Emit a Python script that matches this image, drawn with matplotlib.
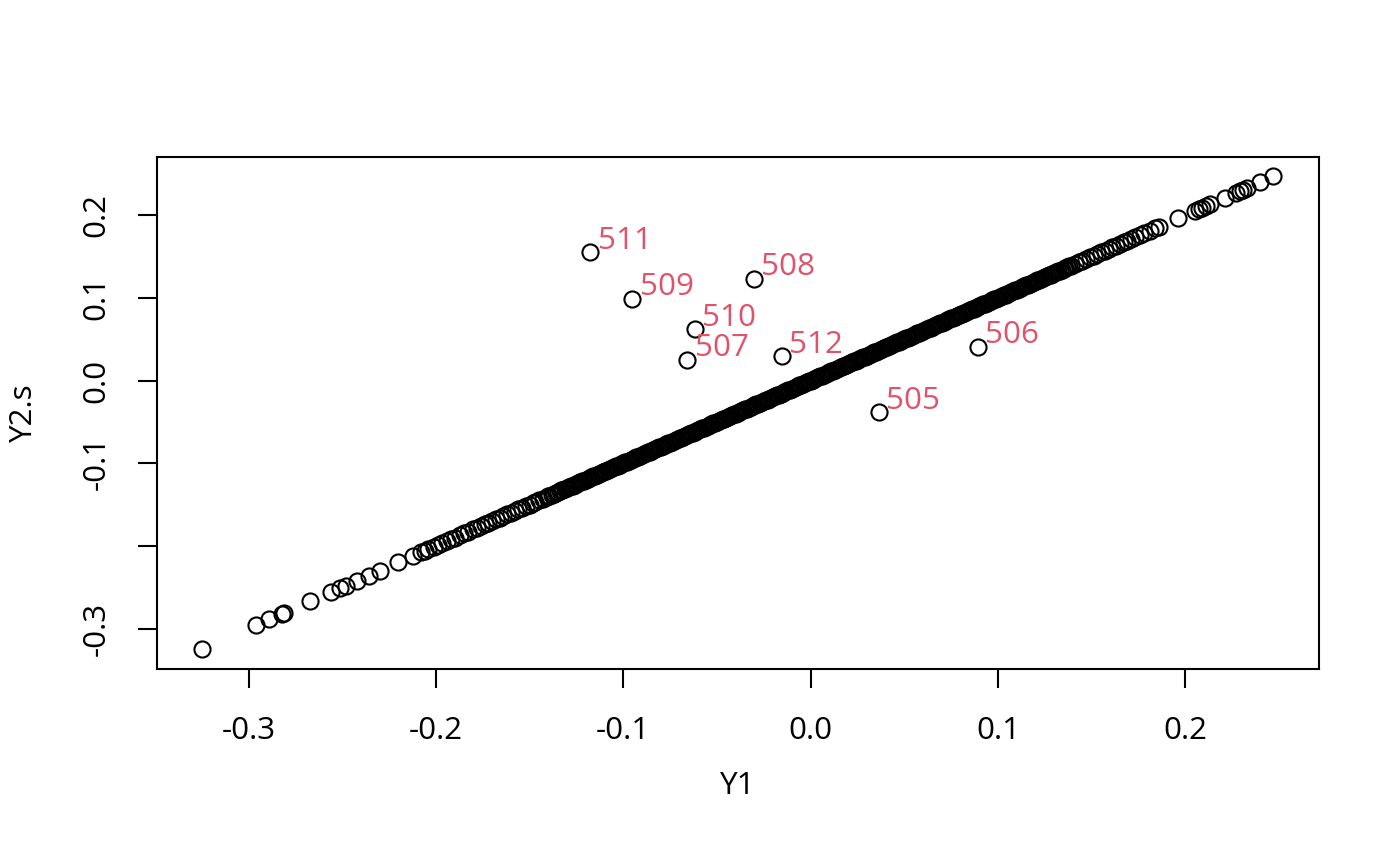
import matplotlib.pyplot as plt

plt.rcParams["font.family"] = ["Open Sans", "DejaVu Sans"]

# points lying on the diagonal band (Y2.s == Y1 there)
y1_line = [
    -0.325, -0.296, -0.289, -0.282, -0.281, -0.267, -0.256, -0.251, -0.248, -0.242,
    -0.236, -0.230, -0.220, -0.212, -0.208, -0.206, -0.204, -0.201, -0.199, -0.197,
    -0.194, -0.192, -0.190, -0.187, -0.185, -0.183, -0.180, -0.178, -0.176, -0.174,
    -0.172, -0.170, -0.168, -0.166, -0.164, -0.162, -0.160, -0.158, -0.156, -0.154,
    -0.152, -0.150, -0.148, -0.147, -0.145, -0.143, -0.141, -0.140, -0.138, -0.136,
    -0.134, -0.133, -0.131, -0.129, -0.127, -0.126, -0.124, -0.122, -0.120, -0.119,
    -0.117, -0.115, -0.113, -0.112, -0.110, -0.108, -0.106, -0.105, -0.103, -0.101,
    -0.099, -0.098, -0.096, -0.094, -0.092, -0.091, -0.089, -0.087, -0.085, -0.084,
    -0.082, -0.080, -0.078, -0.077, -0.075, -0.073, -0.071, -0.070, -0.068, -0.066,
    -0.064, -0.063, -0.061, -0.059, -0.057, -0.056, -0.054, -0.052, -0.050, -0.049,
    -0.047, -0.045, -0.043, -0.042, -0.040, -0.038, -0.036, -0.035, -0.033, -0.031,
    -0.029, -0.028, -0.026, -0.024, -0.022, -0.021, -0.019, -0.017, -0.015, -0.014,
    -0.012, -0.010, -0.008, -0.007, -0.005, -0.003, -0.001, 0.000, 0.002, 0.004,
    0.006, 0.007, 0.009, 0.011, 0.013, 0.014, 0.016, 0.018, 0.020, 0.021,
    0.023, 0.025, 0.027, 0.028, 0.030, 0.032, 0.034, 0.035, 0.037, 0.039,
    0.041, 0.042, 0.044, 0.046, 0.048, 0.049, 0.051, 0.053, 0.055, 0.056,
    0.058, 0.060, 0.062, 0.063, 0.065, 0.067, 0.069, 0.070, 0.072, 0.074,
    0.076, 0.077, 0.079, 0.081, 0.083, 0.084, 0.086, 0.088, 0.090, 0.091,
    0.093, 0.095, 0.097, 0.098, 0.100, 0.102, 0.104, 0.105, 0.107, 0.109,
    0.111, 0.112, 0.114, 0.116, 0.118, 0.119, 0.121, 0.123, 0.125, 0.126,
    0.128, 0.130, 0.132, 0.133, 0.135, 0.137, 0.139, 0.141, 0.143, 0.145,
    0.147, 0.149, 0.151, 0.153, 0.155, 0.157, 0.159, 0.161, 0.163, 0.165,
    0.167, 0.169, 0.171, 0.173, 0.176, 0.178, 0.181, 0.184, 0.186, 0.196,
    0.205, 0.207, 0.209, 0.211, 0.213, 0.221, 0.227, 0.229, 0.231, 0.233,
    0.240, 0.247,
]
# extra points inside the solid central part of the band
y1_core = [
    -0.1395, -0.137, -0.135, -0.1325, -0.130, -0.128, -0.1255, -0.123, -0.121, -0.118,
    -0.116, -0.114, -0.111, -0.109, -0.107, -0.104, -0.102, -0.100, -0.097, -0.095,
    -0.093, -0.090, -0.088, -0.086, -0.083, -0.081, -0.079, -0.076, -0.074, -0.072,
    -0.069, -0.067, -0.065, -0.062, -0.060, -0.058, -0.055, -0.053, -0.051, -0.048,
    -0.046, -0.044, -0.041, -0.039, -0.037, -0.034, -0.032, -0.030, -0.027, -0.025,
    -0.023, -0.020, -0.018, -0.016, -0.013, -0.011, -0.009, -0.006, -0.004, -0.002,
    0.001, 0.003, 0.005, 0.008, 0.010, 0.012, 0.015, 0.017, 0.019, 0.022,
    0.024, 0.026, 0.029, 0.031, 0.033, 0.036, 0.038, 0.040, 0.043, 0.045,
    0.047, 0.050, 0.052, 0.054, 0.057, 0.059, 0.061, 0.064, 0.066, 0.068,
    0.071, 0.073, 0.075, 0.078, 0.080, 0.082, 0.085, 0.087, 0.089, 0.092,
    0.094, 0.096, 0.099, 0.101, 0.103, 0.106, 0.108, 0.110, 0.113, 0.115,
    0.117, 0.120, 0.122, 0.124, 0.127, 0.129, 0.131, 0.134, 0.136, 0.138,
]
y2s_line = list(y1_line)
y2s_core = list(y1_core)

# labelled outliers
out_ids = ["505", "506", "507", "508", "509", "510", "511", "512"]
out_y1  = [0.0365, 0.0893, -0.0658, -0.0303, -0.0952, -0.0619, -0.1176, -0.0155]
out_y2s = [-0.0385, 0.0405, 0.0252, 0.1230, 0.0989, 0.0619, 0.1550, 0.0293]

x_ticks = [-0.3, -0.2, -0.1, 0.0, 0.1, 0.2]
x_ticklabels = ["-0.3", "-0.2", "-0.1", "0.0", "0.1", "0.2"]
y_ticks = [-0.3, -0.2, -0.1, 0.0, 0.1, 0.2]
y_ticklabels = ["-0.3", "", "-0.1", "0.0", "0.1", "0.2"]

fig = plt.figure(figsize=(7, 4.33), dpi=200)
ax = fig.add_axes([0.112, 0.2275, 0.830, 0.5912])

ax.plot(y1_line + y1_core + out_y1, y2s_line + y2s_core + out_y2s,
        linestyle="none", marker="o", markersize=5.8, markerfacecolor="none",
        markeredgecolor="black", markeredgewidth=0.75)

for lab, x, y in zip(out_ids, out_y1, out_y2s):
    ax.annotate(lab, (x, y), xytext=(2.6, 1.3), textcoords="offset points",
                ha="left", va="baseline", color="#DF536B", fontsize=11.3)

ax.set_xlim(-0.349, 0.2712)
ax.set_ylim(-0.3489, 0.2703)

ax.set_xticks(x_ticks)
ax.set_xticklabels(x_ticklabels)
ax.set_yticks(y_ticks)
ax.set_yticklabels(y_ticklabels, rotation=90, va="center")
ax.tick_params(axis="both", direction="out", length=6.8, width=0.75,
               labelsize=11.3, colors="black")
ax.tick_params(axis="x", pad=10)
ax.tick_params(axis="y", pad=9.5)

for sp in ax.spines.values():
    sp.set_linewidth(0.75)

ax.set_xlabel("Y1", fontsize=11.3)
ax.set_ylabel("Y2.s", fontsize=11.3)
ax.xaxis.set_label_coords(0.5, -0.2)
ax.yaxis.set_label_coords(-0.101, 0.5)

fig.savefig("out.png", dpi=200)
